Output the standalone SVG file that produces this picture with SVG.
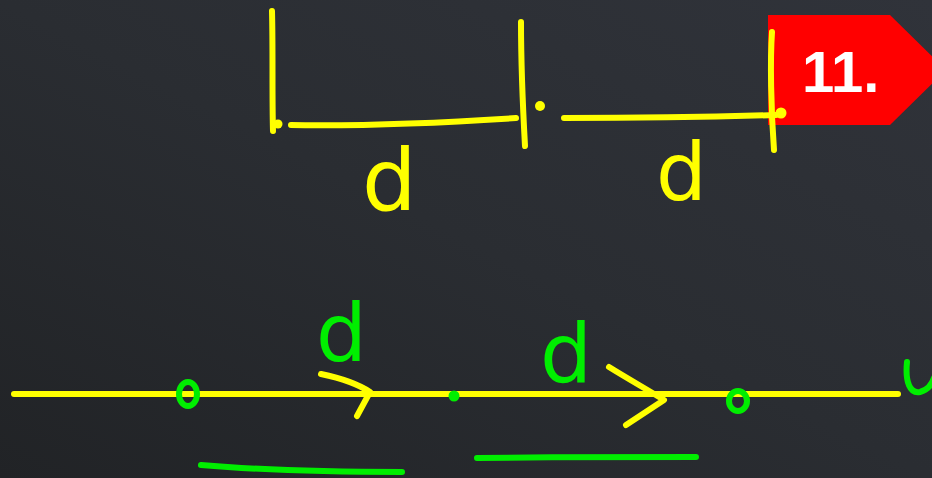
<svg xmlns="http://www.w3.org/2000/svg" width="932" height="478" viewBox="0 0 932 478">
  <defs>
    <linearGradient id="bg" x1="1" y1="0" x2="0" y2="1">
      <stop offset="0" stop-color="#30333a"/>
      <stop offset="0.5" stop-color="#2a2d32"/>
      <stop offset="1" stop-color="#212326"/>
    </linearGradient>
    <style>
      .y { fill: none; stroke: #ffff00; stroke-width: 6; stroke-linecap: round; stroke-linejoin: round; }
      .g { fill: none; stroke: #00ee00; stroke-width: 6; stroke-linecap: round; stroke-linejoin: round; }
      .yd { fill: #ffff00; }
      .gd { fill: #00ee00; }
      .hand { font-family: "DejaVu Sans", sans-serif; }
      .ytxt { fill: #ffff00; }
      .gtxt { fill: #00ee00; }
    </style>
  </defs>
  <rect x="0" y="0" width="932" height="478" fill="url(#bg)"/>

  <!-- number tag -->
  <g id="tag">
    <polygon points="768,15 890,15 946,70 890,125 768,125" fill="#ff0000"/>
    <text x="802" y="92" font-family="Liberation Sans, Arial, sans-serif" font-weight="bold" font-size="58" fill="#ffffff">11.</text>
  </g>

  <!-- top figure -->
  <g id="top-figure">
    <path class="y" d="M272,11 C273,50 272,95 273,131"/>
    <circle class="yd" cx="278" cy="124" r="4.5"/>
    <path class="y" d="M291,125 C360,126 440,123 516,118"/>
    <path class="y" d="M521,22 C521,60 523,110 525,146"/>
    <circle class="yd" cx="540" cy="106" r="5"/>
    <path class="y" d="M564,118 C640,118 710,117 776,115"/>
    <path class="y" d="M772,32 C770,60 771,110 774,150"/>
    <circle class="yd" cx="781" cy="113" r="5.5"/>
    <text class="hand ytxt" x="362" y="210" font-size="86">d</text>
    <text class="hand ytxt" x="656" y="200" font-size="80">d</text>
  </g>

  <!-- bottom line figure -->
  <g id="bottom-figure">
    <path class="y" d="M14,394 L898,394"/>
    <path class="y" d="M321,374 C340,378 358,384 370,392 L357,416"/>
    <path class="y" d="M609,367 C630,380 648,390 664,400 L626,425"/>
    <ellipse class="g" cx="188" cy="394" rx="9" ry="12"/>
    <circle class="gd" cx="454" cy="396" r="5.5"/>
    <ellipse class="g" cx="738" cy="401" rx="9" ry="10"/>
    <text class="hand gtxt" x="316" y="361" font-size="80">d</text>
    <text class="hand gtxt" x="540" y="382" font-size="82">d</text>
    <path class="g" d="M907,362 C905,382 910,394 920,392 C928,390 932,384 934,378"/>
    <path class="g" d="M201,465 C260,470 330,472 402,472"/>
    <path class="g" d="M477,458 C550,457 630,457 696,457"/>
  </g>
</svg>
